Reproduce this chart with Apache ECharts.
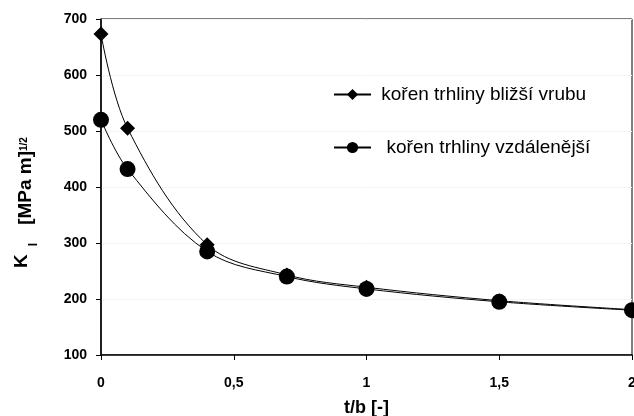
<!DOCTYPE html>
<html>
<head>
<meta charset="utf-8">
<script src="https://cdn.jsdelivr.net/npm/echarts@6/dist/echarts.min.js"></script>
<style>html,body{margin:0;padding:0;background:#fff}#c{width:634px;height:416px}</style>
</head>
<body>
<div id="c"></div>
<script>
const xValues = [0, 0.1, 0.4, 0.7, 1, 1.5, 2];
const nearNotch = [673, 505, 297, 243, 221, 197, 181];
const farRoot = [520, 432, 285, 240, 218, 195, 180];
const seriesNames = ['kořen trhliny bližší vrubu', 'kořen trhliny vzdálenější'];
const xTicks = { 0: '0', 0.5: '0,5', 1: '1', 1.5: '1,5', 2: '2' };

const font = 'Liberation Sans, Arial, sans-serif';
const pairs = (ys) => xValues.map((x, i) => [x, ys[i]]);

const chart = echarts.init(document.getElementById('c'), null, { renderer: 'canvas' });
chart.setOption({
  animation: false,
  backgroundColor: '#fff',
  grid: { left: 101, right: 2, top: 19, bottom: 61, show: true, borderColor: '#000', borderWidth: 1, containLabel: false, outerBoundsMode: 'none' },
  xAxis: {
    type: 'value', min: 0, max: 2, interval: 0.5,
    name: 't/b [-]', nameLocation: 'middle', nameGap: 44,
    nameTextStyle: { fontFamily: font, fontWeight: 'bold', fontSize: 18, color: '#000' },
    axisLine: { lineStyle: { color: '#000', width: 1.5 } },
    axisTick: { show: true, length: 5, lineStyle: { color: '#000' } },
    axisLabel: { formatter: v => xTicks[v] !== undefined ? xTicks[v] : '', fontFamily: font, fontWeight: 'bold', fontSize: 14, color: '#000', margin: 21 },
    splitLine: { show: false }
  },
  yAxis: {
    type: 'value', min: 100, max: 700, interval: 100,
    name: '{k|K}{sub|I}{sp| }{n|[MPa m]}{sup|1/2}{end| }', nameLocation: 'middle', nameGap: 62, nameRotate: 90,
    nameTextStyle: {
      fontFamily: font, fontWeight: 'bold', color: '#000',
      rich: {
        k: { fontFamily: font, fontWeight: 'bold', fontSize: 19, color: '#000', verticalAlign: 'middle', lineHeight: 34 },
        sub: { fontFamily: font, fontWeight: 'bold', fontSize: 12, color: '#000', verticalAlign: 'middle', lineHeight: 10, padding: [23, 0, 0, 8] },
        sp: { fontSize: 10, width: 18, lineHeight: 10 },
        n: { fontFamily: font, fontWeight: 'bold', fontSize: 19, color: '#000', verticalAlign: 'middle', lineHeight: 20, padding: [7, 0, 0, 0] },
        sup: { fontFamily: font, fontWeight: 'bold', fontSize: 10, color: '#000', verticalAlign: 'middle', lineHeight: 12, padding: [4, 0, 0, 0] },
        end: { fontSize: 10, width: 31, lineHeight: 10 }
      }
    },
    axisLine: { show: true, lineStyle: { color: '#000', width: 1.5 } },
    axisTick: { show: true, length: 5, lineStyle: { color: '#000' } },
    axisLabel: { fontFamily: font, fontWeight: 'bold', fontSize: 14, color: '#000', margin: 14 },
    splitLine: { show: true, lineStyle: { color: '#f4f4f4', width: 1 } }
  },
  legend: {
    orient: 'vertical', left: 328, top: 80, itemGap: 34,
    itemWidth: 37, itemHeight: 14,
    formatter: name => (name === seriesNames[1] ? '  ' : ' ') + name,
    textStyle: { fontFamily: font, fontSize: 19, color: '#000' },
    data: seriesNames
  },
  series: [
    {
      name: seriesNames[0], type: 'line', data: pairs(nearNotch), smooth: 0.35,
      symbol: 'diamond', symbolSize: 15,
      lineStyle: { color: '#000', width: 1 }, itemStyle: { color: '#000' }
    },
    {
      name: seriesNames[1], type: 'line', data: pairs(farRoot), smooth: 0.35,
      symbol: 'circle', symbolSize: 16,
      lineStyle: { color: '#000', width: 1 }, itemStyle: { color: '#000' }
    }
  ]
});
</script>
</body>
</html>
